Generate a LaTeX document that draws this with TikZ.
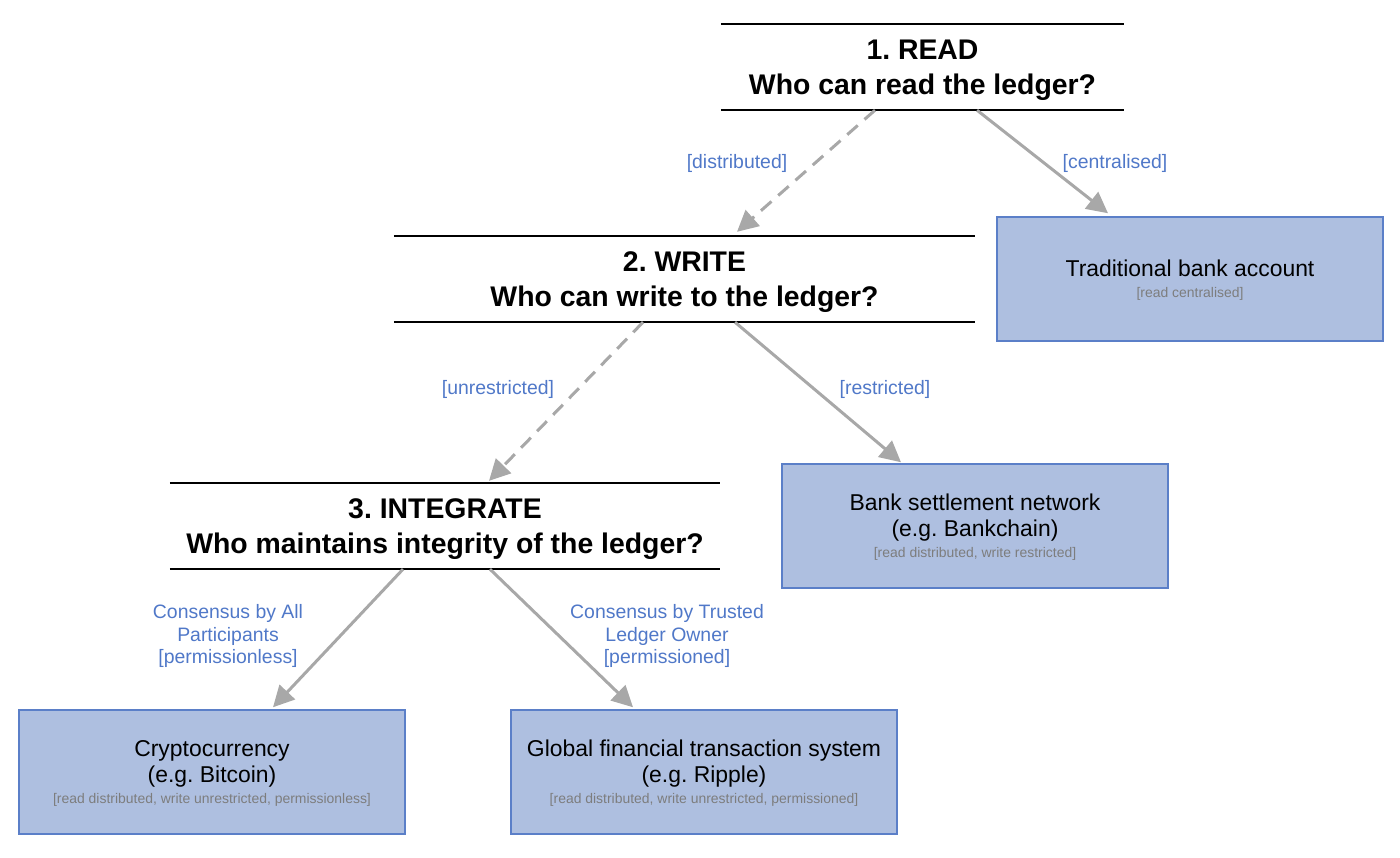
\documentclass[tikz,border=0pt]{standalone}
\usepackage{fontspec}
\setmainfont{Liberation Sans}
\usetikzlibrary{arrows.meta}
\definecolor{boxfill}{RGB}{174,191,224}
\definecolor{boxline}{RGB}{91,127,200}
\definecolor{lblue}{RGB}{80,120,200}
\definecolor{arrgray}{RGB}{168,168,168}
\definecolor{subgray}{RGB}{125,125,125}
\newcommand{\subt}[1]{{\fontsize{14}{16}\selectfont\color{subgray}#1}}
\frenchspacing
\begin{document}
\begin{tikzpicture}[x=1bp,y=-1bp,
  heading/.style={inner sep=0pt, minimum height=86bp, align=center,
    font=\fontsize{28.5}{35}\selectfont\bfseries\frenchspacing, text depth=-13bp},
  outcome/.style={draw=boxline, line width=1.5bp, fill=boxfill,
    minimum width=386bp, minimum height=124bp, inner sep=0pt, align=center,
    font=\fontsize{23}{26}\selectfont\frenchspacing, text depth=-7bp},
  rulestyle/.style={line width=1.6bp, black},
  conn/.style={draw=arrgray, line width=3bp, -{Triangle[length=21bp,width=21bp]}},
  dashedconn/.style={conn, dash pattern=on 14bp off 9bp},
  lbl/.style={text=lblue, font=\fontsize{19.5}{22.5}\selectfont, align=center, inner sep=0pt}
]
\useasboundingbox (0,0) rectangle (1400,857);

% headings
\node[heading, minimum width=403bp] (read) at (922.5,67) {1. READ\\Who can read the ledger?};
\node[heading, minimum width=581bp] (write) at (684.5,279) {2. WRITE\\Who can write to the ledger?};
\node[heading, minimum width=550bp] (integ) at (445,526) {3. INTEGRATE\\Who maintains integrity of the ledger?};
\foreach \n in {read,write,integ}
  \draw[rulestyle] (\n.north west) -- (\n.north east) (\n.south west) -- (\n.south east);

% outcomes
\node[outcome] (trad) at (1190,279) {Traditional bank account\\[-5bp]\subt{[read centralised]}};
\node[outcome] (bank) at (975,526) {Bank settlement network\\(e.g. Bankchain)\\[-5bp]\subt{[read distributed, write restricted]}};
\node[outcome] (crypto) at (212,772) {Cryptocurrency\\(e.g. Bitcoin)\\[-5bp]\subt{[read distributed, write unrestricted, permissionless]}};
\node[outcome] (global) at (704,772) {Global financial transaction system\\(e.g. Ripple)\\[-5bp]\subt{[read distributed, write unrestricted, permissioned]}};

% connectors
\draw[dashedconn] ([xshift=-47.5bp]read.south) -- ([xshift=52.5bp,yshift=4bp]write.north);
\draw[conn] ([xshift=54.5bp]read.south) -- ([xshift=-82bp,yshift=3bp]trad.north);
\draw[dashedconn] ([xshift=-41.5bp]write.south) -- ([xshift=44bp,yshift=2bp]integ.north);
\draw[conn] ([xshift=50.5bp]write.south) -- ([xshift=-74bp,yshift=1bp]bank.north);
\draw[conn] ([xshift=-42bp]integ.south) -- ([xshift=61bp,yshift=2bp]crypto.north);
\draw[conn] ([xshift=45bp]integ.south) -- ([xshift=-71bp,yshift=2bp]global.north);

% labels
\node[lbl] (ldist) at (737,163) {[distributed]};
\node[lbl] (lcent) at (1115,163) {[centralised]};
\node[lbl] (lunres) at (498,389) {[unrestricted]};
\node[lbl] (lres) at (885,389) {[restricted]};
\node[lbl] (lall) at (228,636) {Consensus by All\\Participants\\{}[permissionless]};
\node[lbl] (ltrust) at (667,636) {Consensus by Trusted\\Ledger Owner\\{}[permissioned]};
\end{tikzpicture}
\end{document}
